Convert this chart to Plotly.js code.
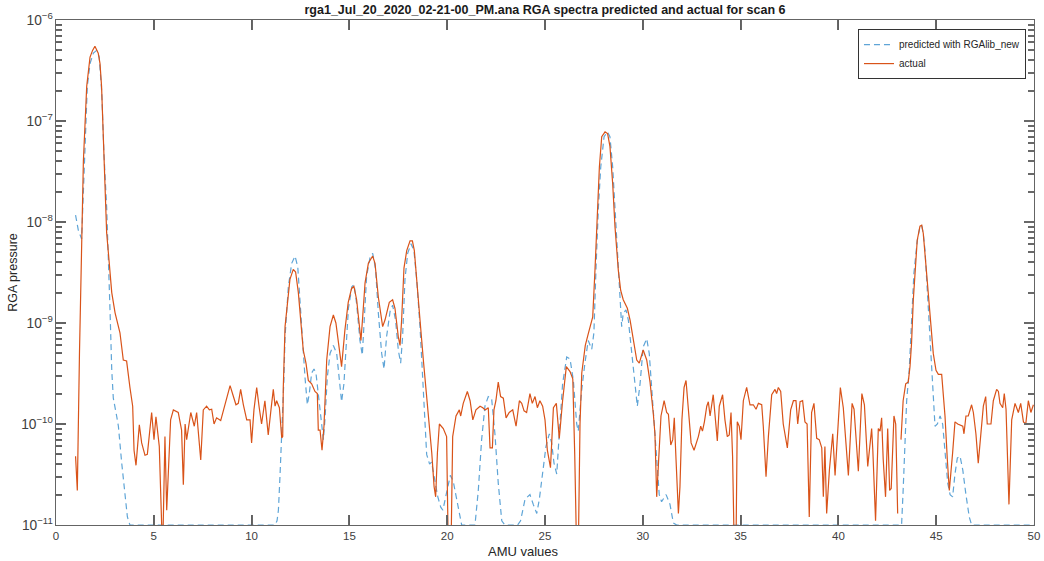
<!DOCTYPE html>
<html>
<head>
<meta charset="utf-8">
<script src="https://cdn.plot.ly/plotly-3.0.1.min.js"></script>
<style>html,body{margin:0;padding:0;background:#fff;}#chart{width:1044px;height:561px;}</style>
</head>
<body>
<div id="chart"></div>
<script>
// ---- data ----
const chartTitle = "rga1_Jul_20_2020_02-21-00_PM.ana RGA spectra predicted and actual for scan 6";
const seriesNames = ["predicted with RGAlib_new", "actual"];

// predicted (dashed)
const amuPredicted = [1.00,1.14,1.31,1.40,1.48,1.60,1.74,1.91,2.08,2.21,2.34,2.45,2.59,2.68,2.76,2.85,2.93,3.10,3.19,3.36,3.53,3.65,3.78,
 11.20,11.30,11.37,11.45,11.52,11.59,11.65,11.71,11.88,12.05,12.22,12.36,12.47,12.61,12.73,12.85,12.95,13.07,13.19,13.29,13.41,13.53,13.67,13.75,13.87,
 14.01,14.18,14.35,14.48,14.60,14.72,14.83,14.95,15.13,15.24,15.37,15.54,15.66,15.76,15.88,16.05,16.19,16.34,16.48,16.65,16.77,16.90,
 17.08,17.21,17.36,17.50,17.62,17.72,17.84,17.98,18.15,18.30,18.44,18.61,18.78,18.95,19.10,19.20,19.31,19.52,19.67,19.78,19.97,
 20.16,20.31,20.47,20.57,20.74,21.42,21.59,21.76,21.93,22.10,22.27,22.44,22.61,22.79,22.95,23.60,23.75,23.98,24.23,24.40,24.58,24.71,24.88,
 25.05,25.22,25.34,25.46,25.60,25.73,25.90,26.11,26.28,26.45,26.62,26.70,26.88,27.04,27.21,27.39,27.50,27.61,27.73,27.85,
 28.02,28.19,28.32,28.46,28.58,28.70,28.84,28.92,29.00,29.14,29.26,29.43,29.60,29.72,29.86,30.02,30.20,30.33,30.50,30.71,30.84,30.96,
 31.19,31.39,31.56,31.73,43.23,43.31,43.40,43.49,43.62,43.74,43.86,44.03,44.17,44.26,44.34,44.43,44.60,44.72,44.83,44.94,
 45.06,45.20,45.33,45.45,45.59,45.71,45.84,45.96,46.08,46.22,46.36,46.52,46.69,46.81,50.00];
const pressurePredicted = [1.17e-8,8.3e-9,6.8e-9,2.2e-8,6e-8,2.2e-7,3.7e-7,4.7e-7,5e-7,4.3e-7,1.9e-7,4.8e-8,1.4e-8,4.9e-9,1.37e-9,3.4e-10,1.8e-10,1.2e-10,9.5e-11,4.1e-11,1.8e-11,1.2e-11,1e-11,
 1e-11,1.1e-11,1.4e-11,3e-11,6e-11,1.1e-10,2.7e-10,7.3e-10,2.3e-9,3.9e-9,4.6e-9,3.6e-9,1.7e-9,5.8e-10,2.9e-10,1.55e-10,2e-10,3.2e-10,3.5e-10,3.2e-10,2e-10,1.2e-10,7e-11,1.1e-10,2.9e-10,
 5e-10,6e-10,5e-10,2.7e-10,1.66e-10,2.5e-10,6.7e-10,1.4e-9,2.3e-9,2.4e-9,1.55e-9,6.7e-10,4.8e-10,1.07e-9,2.9e-9,4.4e-9,4.9e-9,3.4e-9,1.25e-9,5e-10,3.5e-10,7.3e-10,
 1.3e-9,1.5e-9,1.07e-9,5.4e-10,4e-10,7.3e-10,2.7e-9,4.9e-9,6.1e-9,5.2e-9,2.7e-9,9.2e-10,2.4e-10,5e-11,4e-11,4.2e-11,3.2e-11,1.9e-11,1.5e-11,1.4e-11,2.1e-11,
 3.1e-11,2.7e-11,1.9e-11,1.4e-11,1e-11,1e-11,2.2e-11,7e-11,1.5e-10,1.87e-10,1.8e-10,8e-11,2.6e-11,1.1e-11,1e-11,1e-11,1.1e-11,1.8e-11,2e-11,1.6e-11,1.3e-11,1.8e-11,3.2e-11,
 6e-11,8e-11,6.5e-11,4.1e-11,3.2e-11,8e-11,2.5e-10,4.6e-10,4.4e-10,2.7e-10,1e-10,8.5e-11,2.2e-10,4e-10,6.7e-10,5.5e-10,8e-10,3.6e-9,1.4e-8,3.5e-8,
 7e-8,7.8e-8,7e-8,3.5e-8,1.3e-8,4.9e-9,2e-9,9.2e-10,1.25e-9,1.35e-9,1.07e-9,5e-10,2.5e-10,1.5e-10,2.5e-10,5.8e-10,7e-10,5e-10,1.7e-10,4.4e-11,2e-11,1.7e-11,
 2e-11,1.6e-11,1.05e-11,1e-11,1e-11,2.2e-11,7e-11,1.7e-10,3.4e-10,1.15e-9,3.1e-9,6.5e-9,9e-9,9.2e-9,7.6e-9,5.2e-9,1.37e-9,5.8e-10,2e-10,9.5e-11,
 1e-10,1.2e-10,1e-10,5.2e-11,2.6e-11,2e-11,1.9e-11,3.2e-11,4.6e-11,4.8e-11,3.5e-11,2e-11,1.2e-11,1e-11,1e-11];

// actual (solid); null = no value (gap)
const amuActual = [1.00,1.09,1.20,1.31,1.40,1.57,1.74,1.87,1.99,2.16,2.25,2.33,2.42,2.50,2.59,2.68,2.85,3.02,3.27,3.44,3.61,3.78,3.92,3.99,
 4.09,4.26,4.38,4.55,4.67,4.89,5.01,5.11,5.28,5.45,5.57,5.66,5.86,6.00,6.25,6.42,6.51,6.60,6.68,6.89,7.07,7.19,7.40,7.53,7.70,7.84,7.96,
 8.08,8.21,8.42,8.59,8.72,8.90,9.07,9.20,9.32,9.44,9.58,9.75,9.92,10.00,10.12,10.26,10.39,10.51,10.68,10.85,10.99,11.11,11.20,11.28,11.42,11.54,11.59,
 11.62,11.71,11.88,11.96,12.13,12.25,12.39,12.51,12.64,12.78,12.90,13.07,13.24,13.36,13.41,13.50,13.60,13.70,13.84,14.01,14.18,14.31,14.43,14.60,14.77,14.94,
 15.11,15.23,15.37,15.51,15.59,15.68,15.80,15.97,16.19,16.31,16.48,16.70,16.82,17.04,17.21,17.33,17.50,17.59,17.67,17.79,17.93,18.10,18.22,18.32,18.44,
 18.61,18.78,18.95,19.12,19.21,19.33,19.41,19.50,19.60,19.80,19.97,20.06,20.19,20.28,20.45,20.62,20.69,20.82,21.03,21.17,21.31,21.47,21.68,21.82,21.94,
 22.10,22.19,22.31,22.39,22.49,22.61,22.73,22.87,23.01,23.17,23.35,23.52,23.69,23.81,23.93,24.06,24.23,24.35,24.49,24.61,24.74,24.88,25.00,25.12,25.28,
 25.43,25.58,25.73,25.90,26.09,26.28,26.42,26.52,26.62,26.70,26.79,26.88,26.96,27.06,27.21,27.32,27.44,27.56,27.68,27.78,27.90,28.07,28.20,28.32,28.46,
 28.58,28.75,28.87,29.00,29.21,29.35,29.52,29.69,29.82,30.02,30.20,30.37,30.54,30.62,30.71,30.79,30.93,31.09,31.22,31.31,31.43,31.53,31.61,31.70,31.82,
 31.90,32.00,32.11,32.21,32.33,32.47,32.62,32.84,32.96,33.05,33.15,33.27,33.35,33.44,33.60,33.81,33.91,34.08,34.20,34.32,34.42,34.51,34.59,34.68,34.76,
 34.83,34.93,35.02,35.14,35.31,35.48,35.65,35.79,35.91,36.08,36.16,36.30,36.42,36.59,36.76,36.84,36.93,37.05,37.18,37.39,37.56,37.70,37.83,37.92,38.04,
 38.17,38.29,38.40,38.51,38.63,38.75,38.89,39.02,39.15,39.23,39.31,39.40,39.54,39.71,39.83,39.91,40.05,40.10,40.25,40.51,40.70,40.80,41.02,41.20,41.33,
 41.50,41.70,41.76,41.90,42.04,42.13,42.21,42.29,42.41,42.52,42.62,42.70,42.84,42.93,43.03,43.10,43.20,43.31,43.44,43.57,43.66,43.74,43.83,43.92,44.03,
 44.17,44.26,44.34,44.46,44.60,44.73,44.85,44.99,45.11,45.28,45.45,45.57,45.67,45.84,45.96,46.10,46.36,46.42,46.52,46.64,46.81,46.90,47.03,47.15,47.27,
 47.41,47.53,47.61,47.80,47.92,48.09,48.18,48.26,48.40,48.48,48.57,48.72,48.86,49.03,49.20,49.32,49.46,49.58,49.71,49.84,49.97];
const pressureActual = [4.8e-11,2.2e-11,5e-10,4.9e-9,4e-8,2.2e-7,4.3e-7,5e-7,5.5e-7,4.7e-7,3.7e-7,2.2e-7,7e-8,2.2e-8,7.8e-9,4.9e-9,2e-9,1.26e-9,8e-10,4.3e-10,4.2e-10,2.3e-10,1.5e-10,5.5e-11,
 3.9e-11,9.8e-11,6.5e-11,4.9e-11,5e-11,1.3e-10,7e-11,1.18e-10,6e-11,5e-12,7.5e-11,1.4e-11,1.1e-10,1.38e-10,1.3e-10,8.7e-11,2.5e-11,1e-10,7e-11,1.3e-10,9.5e-11,1.3e-10,4.4e-11,1.38e-10,1.5e-10,1.38e-10,1.4e-10,
 1e-10,1.15e-10,1.08e-10,1.45e-10,1.7e-10,2.4e-10,1.87e-10,1.55e-10,1.6e-10,2.2e-10,1.55e-10,1.1e-10,1.1e-10,6.5e-11,1.38e-10,2.3e-10,1.45e-10,1e-10,1.7e-10,7.8e-11,1.38e-10,2.2e-10,1.5e-10,1.7e-10,1.45e-10,7.3e-11,7.5e-11,
 2.3e-10,9.2e-10,2e-9,2.7e-9,3.4e-9,3.2e-9,2e-9,1.15e-9,5.4e-10,4e-10,2.7e-10,2.5e-10,2.1e-10,2e-10,8.7e-11,8.7e-11,5.5e-11,9.5e-11,4.3e-10,9.2e-10,1.2e-9,1e-9,6.3e-10,3.7e-10,8.5e-10,1.6e-9,
 2.2e-9,2.3e-9,1.7e-9,9.2e-10,6.7e-10,1.15e-9,2.5e-9,3.9e-9,4.6e-9,3.9e-9,1.8e-9,9.2e-10,1.07e-9,1.6e-9,1.7e-9,1.4e-9,7.3e-10,6e-10,1.07e-9,3.5e-9,5.2e-9,6.5e-9,6.5e-9,5.2e-9,2.9e-9,
 1.07e-9,4.3e-10,1.87e-10,8.7e-11,5.2e-11,2.4e-11,1.9e-11,5.2e-11,1e-10,9e-11,7.5e-11,5e-12,5e-12,7.5e-11,1.2e-10,1.38e-10,1.2e-10,1.6e-10,2.1e-10,1.7e-10,1.1e-10,1.38e-10,1.5e-10,1.45e-10,1.38e-10,
 1.45e-10,5.8e-11,5.8e-11,1.38e-10,1.7e-10,2.6e-10,1.87e-10,1.8e-10,1.15e-10,1.3e-10,1.38e-10,9.5e-11,1.7e-10,1.6e-10,1.35e-10,1.3e-10,2e-10,1.6e-10,1.87e-10,1.45e-10,1.7e-10,1.5e-10,1.1e-10,5.5e-11,3.7e-11,
 1.45e-10,1.6e-10,7.2e-11,1.7e-10,3.7e-10,3.3e-10,2.8e-10,5e-11,5e-12,5e-12,1e-10,3.2e-10,4.3e-10,6e-10,7.8e-10,9.2e-10,1.15e-9,3.5e-9,1.1e-8,3.5e-8,7e-8,7.8e-8,7.5e-8,5.6e-8,2.4e-8,
 8.9e-9,3.3e-9,2.1e-9,1.7e-9,1.4e-9,1.07e-9,6.7e-10,4.3e-10,4e-10,5.4e-10,4.3e-10,2.6e-10,1.25e-10,8e-11,1.9e-11,3.5e-11,1.2e-10,1.7e-10,1.3e-10,1.25e-10,6.2e-11,7e-11,1.15e-10,4.4e-11,1.3e-11,
 2.4e-11,1.1e-10,2.3e-10,2.7e-10,1.4e-10,6.5e-11,5.5e-11,7.5e-11,9.5e-11,8.5e-11,1.05e-10,1.5e-10,1.66e-10,1.2e-10,1.95e-10,6.8e-11,1.5e-10,1.95e-10,1.1e-10,7.5e-11,7.8e-11,1.3e-10,4.8e-11,5e-12,5e-12,
 1.05e-10,9.5e-11,7e-11,1.7e-10,2.3e-10,1.55e-10,1.55e-10,1.4e-10,1.6e-10,1.55e-10,9.5e-11,3e-11,7.5e-11,1.95e-10,2.2e-10,2e-10,2.3e-10,2.1e-10,1e-10,5.8e-11,1.38e-10,1.7e-10,1.7e-10,1e-10,1.66e-10,
 1.7e-10,1.05e-10,1e-10,1.2e-11,1.3e-10,1.6e-10,7.2e-11,7e-11,5.8e-11,1.9e-11,6e-11,1.3e-11,3.5e-11,8e-11,3.1e-11,5.5e-11,1.7e-10,2.3e-10,1.45e-10,3.1e-11,1.6e-10,1.4e-10,3.4e-11,2e-10,1.55e-10,
 3.8e-11,9e-11,5.5e-11,1.1e-11,9e-11,8.5e-11,1.15e-10,4.5e-11,1.9e-11,9e-11,2.2e-11,2.3e-11,1.2e-10,1e-10,1.3e-11,null,7e-11,1.7e-10,2.5e-10,2.6e-10,3.7e-10,6.3e-10,1.7e-9,3.6e-9,6.6e-9,
 9.1e-9,9.3e-9,7.7e-9,4.2e-9,1.8e-9,9.2e-10,5e-10,3.4e-10,3.1e-10,3.1e-10,1.2e-10,4.4e-11,2.2e-11,5.2e-11,1.05e-10,1e-10,9.5e-11,8e-11,1.2e-10,1.2e-10,1.55e-10,1.3e-10,8e-11,4.1e-11,8e-11,
 1.5e-10,1.87e-10,1e-10,1e-10,1.7e-10,2.2e-10,2.1e-10,1.6e-10,1.45e-10,2e-10,1.4e-10,1.6e-11,1.1e-10,1.6e-10,1.3e-10,1.6e-10,1.05e-10,1e-10,1.7e-10,1.3e-10,1.55e-10];

// tick positions
const xTickVals = [5,10,15,20,25,30,35,40,45];
const yDecades = [-10,-9,-8,-7];
const yMinorMult = [2,3,4,5,6,7,8,9];
const xLabel = "AMU values";
const yLabel = "RGA pressure";

// ---- chart ----
const FONT = "Liberation Sans, Arial, Helvetica, sans-serif";
const TICKC = "rgb(105,105,105)";
const traces = [
  {x: amuPredicted, y: pressurePredicted, name: seriesNames[0], type: "scatter", mode: "lines",
   line: {color: "rgb(95,165,215)", width: 1.2, dash: "6px,4px"}},
  {x: amuActual, y: pressureActual, name: seriesNames[1], type: "scatter", mode: "lines", connectgaps: false,
   line: {color: "#D95319", width: 1.2}}
];

// tick marks on the bottom, top and left sides of the box
const PLOT_W = 978, PLOT_H = 505;
const tickLine = {color: "rgb(95,95,95)", width: 1};
const shapes = [];
xTickVals.forEach(v => {
  shapes.push({type: "line", xref: "x", yref: "paper", x0: v, x1: v, y0: 0, y1: 10 / PLOT_H, line: tickLine, layer: "above"});
  shapes.push({type: "line", xref: "x", yref: "paper", x0: v, x1: v, y0: 1, y1: 1 - 10 / PLOT_H, line: tickLine, layer: "above"});
});
const yToPaper = v => (Math.log10(v) + 11) / 5;
yDecades.forEach(d => {
  shapes.push({type: "line", xref: "paper", yref: "paper", x0: 0, x1: 10 / PLOT_W, y0: yToPaper(Math.pow(10, d)), y1: yToPaper(Math.pow(10, d)), line: tickLine, layer: "above"});
});
[-11,-10,-9,-8,-7].forEach(d => {
  yMinorMult.forEach(m => {
    const p = yToPaper(m * Math.pow(10, d));
    shapes.push({type: "line", xref: "paper", yref: "paper", x0: 0, x1: 6 / PLOT_W, y0: p, y1: p, line: tickLine, layer: "above"});
  });
});

const layout = {
  width: 1044, height: 561,
  margin: {l: 56, r: 10, t: 20, b: 36},
  title: {text: "<b>" + chartTitle + "</b>", font: {family: FONT, size: 12.5, color: "#1a1a1a"},
          x: 0.5, xref: "paper", xanchor: "center", y: 1 - 10/561, yref: "container", yanchor: "middle"},
  xaxis: {
    range: [0, 50], tick0: 0, dtick: 5, showgrid: false,
    showline: true, linecolor: "rgb(100,100,100)", mirror: "allticks",
    ticks: "inside", ticklen: 10, tickwidth: 2, tickcolor: TICKC,
    tickfont: {family: FONT, size: 11.5, color: "#404040"}
  },
  yaxis: {
    type: "log", range: [-11, -6], dtick: 1, exponentformat: "power", showgrid: false,
    showline: true, linecolor: "rgb(100,100,100)", mirror: "allticks",
    ticks: "inside", ticklen: 10, tickwidth: 2, tickcolor: TICKC,
    minor: {ticks: "inside", ticklen: 6, tickcolor: TICKC, tickwidth: 2, showgrid: false},
    tickfont: {family: FONT, size: 11, color: "#404040"},
    title: {text: yLabel, font: {family: FONT, size: 12.5, color: "#262626"}, standoff: 0}
  },
  shapes: shapes,
  annotations: [
    {text: xLabel, xref: "paper", yref: "paper", x: (523 - 56) / 978, y: -(551 - 525) / 505,
     xanchor: "center", yanchor: "middle", showarrow: false,
     font: {family: FONT, size: 13, color: "#262626"}}
  ],
  showlegend: true,
  legend: {x: 0.9918, xanchor: "right", y: 0.982, yanchor: "top", bgcolor: "#fff",
           bordercolor: "#333", borderwidth: 1, font: {family: FONT, size: 10, color: "#262626"},
           tracegroupgap: 0, itemwidth: 30}
};
Plotly.newPlot("chart", traces, layout, {staticPlot: true});
</script>
</body>
</html>
